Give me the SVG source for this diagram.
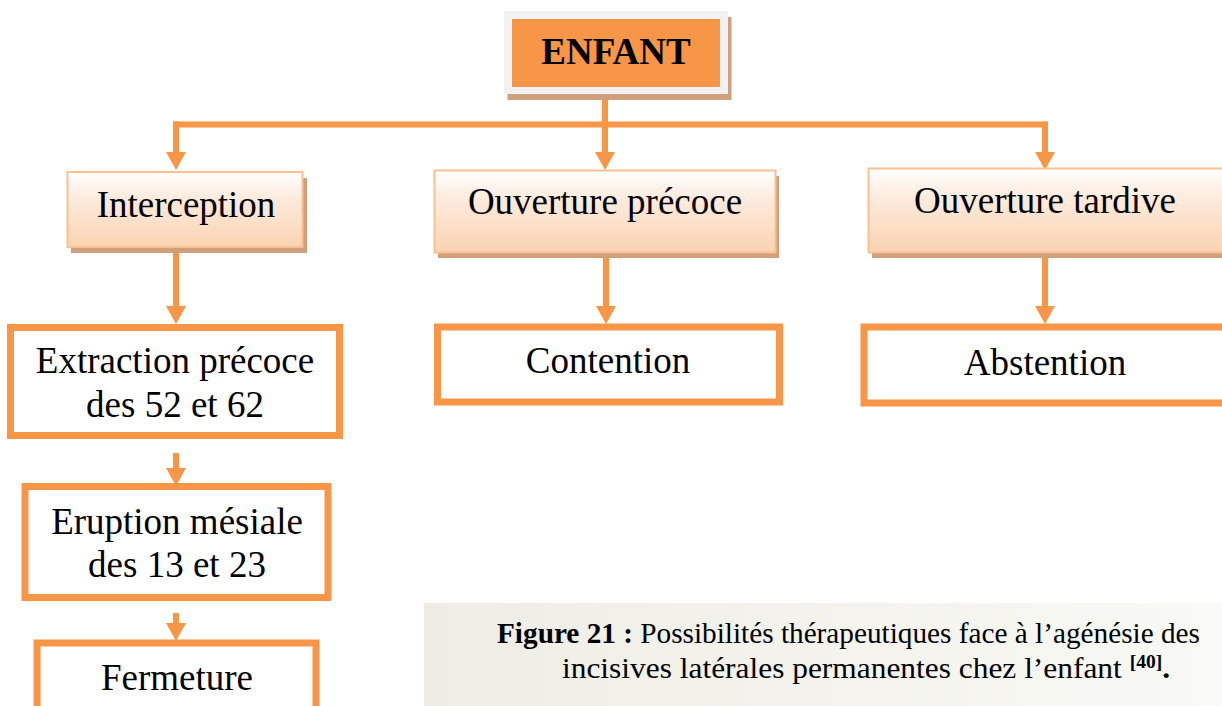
<svg xmlns="http://www.w3.org/2000/svg" width="1222" height="706" viewBox="0 0 1222 706">
  <defs>
    <linearGradient id="peach" x1="0" y1="0" x2="0" y2="1">
      <stop offset="0" stop-color="#FFFFFF"/>
      <stop offset="0.35" stop-color="#FDEBDD"/>
      <stop offset="1" stop-color="#FAD3B2"/>
    </linearGradient>
    <linearGradient id="captionBg" x1="0" y1="0" x2="1" y2="0">
      <stop offset="0" stop-color="#EEEDE5"/>
      <stop offset="1" stop-color="#F9F9F5"/>
    </linearGradient>
    <marker id="head" viewBox="0 0 18 20" markerUnits="userSpaceOnUse" markerWidth="18" markerHeight="20" refX="0" refY="10" orient="auto">
      <path d="M0,0 L18,10 L0,20 Z" fill="#F79646"/>
    </marker>
    <style>
      .link { fill: none; stroke: #F79646; stroke-width: 6; }
      .shadow { fill: #D0A07D; }
      .soft { fill: url(#peach); stroke: #FAC08F; stroke-width: 2; }
      .frame { fill: #FFFFFF; stroke: #F79646; stroke-width: 7; }
      .lbl { font-family: "Liberation Serif", "Times New Roman", serif; font-size: 37px; fill: #000; text-anchor: middle; }
      .cap { font-family: "Liberation Serif", "Times New Roman", serif; font-size: 29px; fill: #000; }
    </style>
  </defs>

  <rect width="1222" height="706" fill="#FFFFFF"/>

  <!-- connectors -->
  <g id="connectors">
    <path class="link" d="M605,100 V152"/>
    <path class="link" d="M173,124.5 H1048"/>
    <path class="link" d="M176,121.5 V152"/>
    <path class="link" d="M1045,121.5 V152" marker-end="url(#head)"/>
    <path class="link" d="M176,124 V152" marker-end="url(#head)"/>
    <path class="link" d="M605,124 V152" marker-end="url(#head)"/>
    <path class="link" d="M176,253 V306" marker-end="url(#head)"/>
    <path class="link" d="M606,258 V306" marker-end="url(#head)"/>
    <path class="link" d="M1045,258 V306" marker-end="url(#head)"/>
    <path class="link" d="M176,453 V468" marker-end="url(#head)"/>
    <path class="link" d="M176,613 V623" marker-end="url(#head)"/>
  </g>

  <!-- root -->
  <g id="enfant">
    <rect x="507.5" y="17" width="224" height="83" class="shadow"/>
    <rect x="504" y="11" width="224" height="83" fill="#F2F2F2"/>
    <rect x="512" y="19" width="208" height="68" fill="#F79646"/>
    <text x="616" y="64" class="lbl" font-weight="bold">ENFANT</text>
  </g>

  <!-- first level -->
  <g id="interception">
    <rect x="71" y="178" width="236" height="75" class="shadow"/>
    <rect x="67.5" y="172" width="235" height="75" class="soft"/>
    <text x="186" y="217" class="lbl">Interception</text>
  </g>

  <g id="ouverture-precoce">
    <rect x="438" y="176" width="341" height="82" class="shadow"/>
    <rect x="434.5" y="170.5" width="341" height="82" class="soft"/>
    <text x="605" y="214" class="lbl">Ouverture précoce</text>
  </g>

  <g id="ouverture-tardive">
    <rect x="872" y="174" width="360" height="84" class="shadow"/>
    <rect x="868.5" y="168.5" width="360" height="84" class="soft"/>
    <text x="1045" y="213" class="lbl">Ouverture tardive</text>
  </g>

  <!-- second level -->
  <g id="extraction">
    <rect x="10.5" y="327.5" width="329" height="108" class="frame"/>
    <text x="175" y="373" class="lbl">Extraction précoce</text>
    <text x="175" y="417" class="lbl">des 52 et 62</text>
  </g>

  <g id="contention">
    <rect x="437.5" y="327" width="342" height="75" class="frame"/>
    <text x="608" y="373" class="lbl">Contention</text>
  </g>

  <g id="abstention">
    <rect x="864" y="327" width="362" height="76" class="frame"/>
    <text x="1045" y="375" class="lbl">Abstention</text>
  </g>

  <g id="eruption">
    <rect x="25" y="486.5" width="303" height="111" class="frame"/>
    <text x="177" y="534" class="lbl">Eruption mésiale</text>
    <text x="177" y="577" class="lbl">des 13 et 23</text>
  </g>

  <g id="fermeture">
    <rect x="37" y="643" width="279" height="80" class="frame"/>
    <text x="177" y="690" class="lbl">Fermeture</text>
  </g>

  <!-- caption -->
  <g id="caption">
    <rect x="424" y="603" width="798" height="103" fill="url(#captionBg)"/>
    <text x="497" y="643" class="cap" textLength="703" lengthAdjust="spacingAndGlyphs"><tspan font-weight="bold">Figure 21 :</tspan> Possibilités thérapeutiques face à l’agénésie des</text>
    <text x="562" y="678" class="cap" textLength="608" lengthAdjust="spacingAndGlyphs">incisives latérales permanentes chez l’enfant <tspan font-size="18" font-weight="bold" dy="-10">[40]</tspan><tspan font-weight="bold" dy="10">.</tspan></text>
  </g>
</svg>
